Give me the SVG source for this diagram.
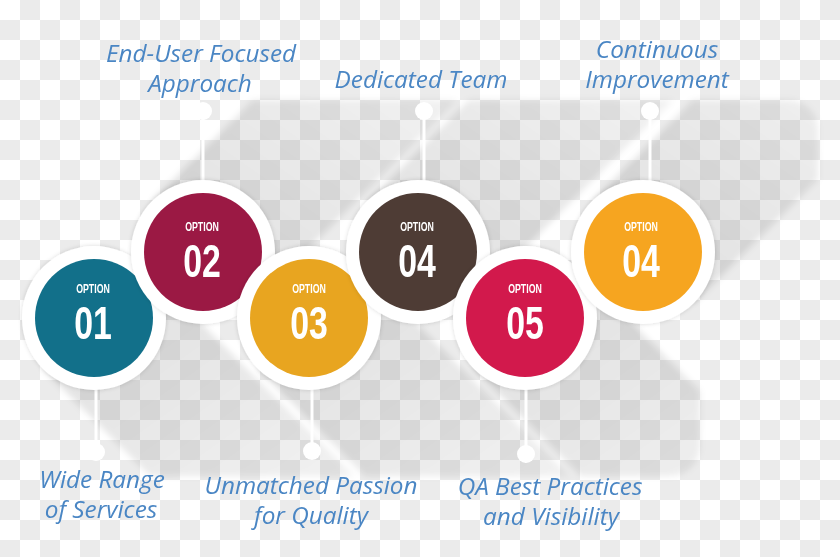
<svg xmlns="http://www.w3.org/2000/svg" width="840" height="557" viewBox="0 0 840 557">
<style>
.ring{fill:#ffffff;filter:url(#ds)}
.ct{font-family:"Liberation Sans",Arial,sans-serif;font-weight:bold;fill:#ffffff;text-anchor:middle}
.opt{font-size:12.2px}
.num{font-size:47px}
.lbl{font-family:"Open Sans","Noto Sans","DejaVu Sans",sans-serif;font-style:italic;font-size:24.3px;fill:#4a86c4;text-anchor:middle}
.cline{stroke:#ffffff;stroke-width:3}
.dot{fill:#ffffff}
.sh-up{fill:url(#gup)}
.sh-dn{fill:url(#gdn)}
</style>
<defs>
<pattern id="chk" x="0" y="0" width="40" height="40" patternUnits="userSpaceOnUse">
<rect width="40" height="40" fill="#ffffff"/>
<rect x="20" y="0" width="20" height="20" fill="#ebebeb"/>
<rect x="0" y="20" width="20" height="20" fill="#ebebeb"/>
</pattern>
<linearGradient id="gup" x1="0" y1="1" x2="1" y2="0">
<stop offset="0" stop-color="#000" stop-opacity="0.13"/>
<stop offset="1" stop-color="#000" stop-opacity="0.04"/>
</linearGradient>
<linearGradient id="gdn" x1="0" y1="0" x2="1" y2="1">
<stop offset="0" stop-color="#000" stop-opacity="0.13"/>
<stop offset="1" stop-color="#000" stop-opacity="0.04"/>
</linearGradient>
<clipPath id="cup"><rect x="0" y="100" width="818" height="300" rx="30"/></clipPath>
<clipPath id="cdn"><rect x="0" y="180" width="700" height="296" rx="30"/></clipPath>
<filter id="blur" x="-10%" y="-10%" width="120%" height="120%"><feGaussianBlur stdDeviation="3"/></filter>
<filter id="ds" x="-20%" y="-20%" width="140%" height="140%"><feDropShadow dx="0" dy="0" stdDeviation="2" flood-color="#000" flood-opacity="0.15"/></filter>
</defs>
<rect width="840" height="557" fill="url(#chk)"/>
<g id="shadows" filter="url(#blur)">
<g clip-path="url(#cup)">
<polygon class="sh-up" points="152,201 293,60 497,60 254,303"/>
<polygon class="sh-up" points="368,201 509,60 713,60 470,303"/>
<polygon class="sh-up" points="592,201 733,60 937,60 694,303"/>
</g>
<g clip-path="url(#cdn)">
<polygon class="sh-dn" points="43,369 194,520 398,520 145,267"/>
<polygon class="sh-dn" points="258,369 409,520 613,520 360,267"/>
<polygon class="sh-dn" points="474,369 625,520 829,520 576,267"/>
</g>
</g>
<g id="connectors">
<line class="cline" x1="96" y1="385" x2="96" y2="452"/><circle class="dot" cx="96" cy="452" r="9"/>
<line class="cline" x1="203" y1="111" x2="203" y2="185"/><circle class="dot" cx="203" cy="111" r="9"/>
<line class="cline" x1="312" y1="385" x2="312" y2="451"/><circle class="dot" cx="312" cy="451" r="9"/>
<line class="cline" x1="424" y1="111" x2="424" y2="185"/><circle class="dot" cx="424" cy="111" r="9"/>
<line class="cline" x1="526" y1="385" x2="526" y2="454"/><circle class="dot" cx="526" cy="454" r="9"/>
<line class="cline" x1="650" y1="111" x2="650" y2="185"/><circle class="dot" cx="650" cy="111" r="9"/>
</g>
<g id="node1">
<circle class="ring" cx="94" cy="318" r="72"/>
<circle cx="94" cy="318" r="59" fill="#12708a"/>
<text class="ct" transform="translate(93,0) scale(0.72,1)"><tspan class="opt" x="0" y="293">OPTION</tspan><tspan class="num" x="0" y="339">01</tspan></text>
<text class="lbl"><tspan x="102" y="488">Wide Range</tspan><tspan x="101" y="518">of Services</tspan></text>
</g>
<g id="node2">
<circle class="ring" cx="203" cy="252" r="72"/>
<circle cx="203" cy="252" r="59" fill="#9b1944"/>
<text class="ct" transform="translate(202,0) scale(0.72,1)"><tspan class="opt" x="0" y="231.5">OPTION</tspan><tspan class="num" x="0" y="277">02</tspan></text>
<text class="lbl"><tspan x="201" y="61.5">End-User Focused</tspan><tspan x="200" y="91.5">Approach</tspan></text>
</g>
<g id="node3">
<circle class="ring" cx="309" cy="318" r="72"/>
<circle cx="309" cy="318" r="59" fill="#e8a520"/>
<text class="ct" transform="translate(309,0) scale(0.72,1)"><tspan class="opt" x="0" y="293">OPTION</tspan><tspan class="num" x="0" y="339">03</tspan></text>
<text class="lbl"><tspan x="311" y="493.5">Unmatched Passion</tspan><tspan x="311" y="523.5">for Quality</tspan></text>
</g>
<g id="node4">
<circle class="ring" cx="418" cy="252" r="72"/>
<circle cx="418" cy="252" r="59" fill="#4e3c35"/>
<text class="ct" transform="translate(417,0) scale(0.72,1)"><tspan class="opt" x="0" y="231.5">OPTION</tspan><tspan class="num" x="0" y="277">04</tspan></text>
<text class="lbl" x="421" y="88">Dedicated Team</text>
</g>
<g id="node5">
<circle class="ring" cx="525" cy="318" r="72"/>
<circle cx="525" cy="318" r="59" fill="#d2194c"/>
<text class="ct" transform="translate(525,0) scale(0.72,1)"><tspan class="opt" x="0" y="293">OPTION</tspan><tspan class="num" x="0" y="339">05</tspan></text>
<text class="lbl"><tspan x="550" y="494.5">QA Best Practices</tspan><tspan x="551" y="524.5">and Visibility</tspan></text>
</g>
<g id="node6">
<circle class="ring" cx="643" cy="252" r="72"/>
<circle cx="643" cy="252" r="59" fill="#f6a520"/>
<text class="ct" transform="translate(641,0) scale(0.72,1)"><tspan class="opt" x="0" y="231.5">OPTION</tspan><tspan class="num" x="0" y="277">04</tspan></text>
<text class="lbl"><tspan x="657" y="58">Continuous</tspan><tspan x="657" y="88">Improvement</tspan></text>
</g>
</svg>
